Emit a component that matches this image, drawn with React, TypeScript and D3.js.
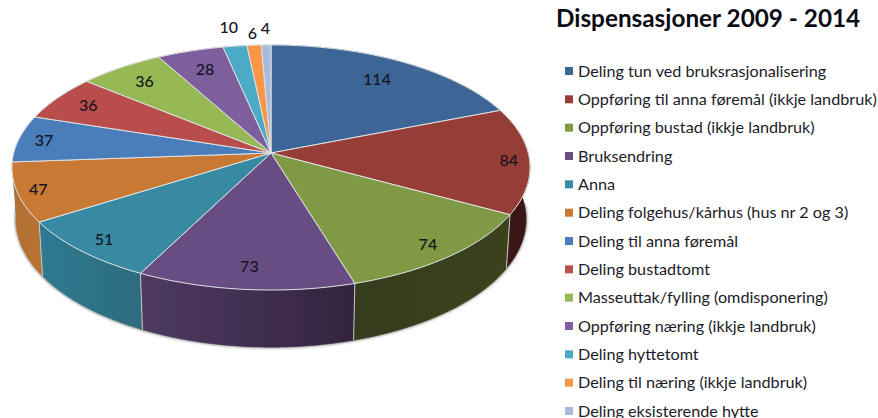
import * as d3 from 'd3';
import * as React from 'react';

const categories = [
  'Deling tun ved bruksrasjonalisering',
  'Oppføring til anna føremål (ikkje landbruk)',
  'Oppføring bustad (ikkje landbruk)',
  'Bruksendring',
  'Anna',
  'Deling folgehus/kårhus (hus nr 2 og 3)',
  'Deling til anna føremål',
  'Deling bustadtomt',
  'Masseuttak/fylling (omdisponering)',
  'Oppføring næring (ikkje landbruk)',
  'Deling hyttetomt',
  'Deling til næring (ikkje landbruk)',
  'Deling eksisterende hytte',
];
const values = [114, 84, 74, 73, 51, 47, 37, 36, 36, 28, 10, 6, 4];

const topColors = ['#3d6696', '#973c38', '#7f9945', '#684d82', '#388aa3', '#c87a35', '#4a7ebb', '#b94e4c', '#97b955', '#7d5e9e', '#4babc6', '#f79646', '#a9bbdc'];
const wallColors = [
  ['#2a4668', '#2a4668'],
  ['#4a1c18', '#3a1512'],
  ['#343c1b', '#3a421d'],
  ['#4f3a62', '#33233f'],
  ['#2f7a90', '#2f6c7e'],
  ['#b06e30', '#b87330'],
  ['#3a6494', '#3a6494'],
  ['#8a3a38', '#8a3a38'],
  ['#71893f', '#71893f'],
  ['#5d4676', '#5d4676'],
  ['#387f93', '#387f93'],
  ['#b86f34', '#b86f34'],
  ['#7e8ba3', '#7e8ba3'],
];
// how far out each value label sits, as a share of the pie radius
const labelRadius = [0.79, 0.92, 0.89, 0.85, 0.89, 0.92, 0.9, 0.85, 0.83, 0.8, 1.2, 1.12, 1.17];

const width = 878;
const height = 418;

// perspective of the tilted disc: the apex is not the middle of the drawn ellipse
const apex = { x: 271, y: 153 };
const spreadX = 257.2;
const spreadY = 120.8;
const tilt = 0.1184;

const project = (angle: number, r = 1) => {
  const u = Math.sin(angle) * r;
  const v = -Math.cos(angle) * r;
  const w = 1 - tilt * v;
  return [apex.x + (spreadX * u) / w, apex.y + (spreadY * v) / w] as [number, number];
};

// bottom rim of the wall
const projectBase = (angle: number) => {
  const [x, y] = project(angle);
  return [apex.x + (x - apex.x) * 0.985, apex.y + 51 + (y - apex.y) * 1.045] as [number, number];
};

const arcSteps = (a0: number, a1: number) => {
  const n = Math.max(2, Math.ceil((a1 - a0) / 0.02));
  return d3.range(n + 1).map((i) => a0 + ((a1 - a0) * i) / n);
};

const line = d3.line();

const App = () => {
  const arcs = d3.pie<number>().sort(null)(values);
  const midAngle = (d: { startAngle: number; endAngle: number }) => (d.startAngle + d.endAngle) / 2;

  // walls go back to front, so the near ones cover the far ones
  const wallOrder = d3.range(arcs.length).sort((a, b) => d3.ascending(-Math.cos(midAngle(arcs[a])), -Math.cos(midAngle(arcs[b]))));

  const xLegend = 565;
  const legendY = d3.scaleLinear().domain([0, 12]).range([71, 411]);

  return (
    <svg width={width} height={height} style={{ position: 'absolute', left: 0, top: 0, background: '#fff' }}>
      <defs>
        <filter id="soft" x="-5%" y="-5%" width="110%" height="110%">
          <feGaussianBlur stdDeviation="0.45" />
        </filter>
        <filter id="shadow" x="-5%" y="-5%" width="110%" height="110%">
          <feGaussianBlur stdDeviation="1.2" />
        </filter>
        {arcs.map((d, i) => {
          const x0 = project(d.startAngle)[0];
          const x1 = project(d.endAngle)[0];
          return (
            <linearGradient key={i} id={`wall-${i}`} gradientUnits="userSpaceOnUse" x1={Math.min(x0, x1)} x2={Math.max(x0, x1)} y1={0} y2={0}>
              <stop offset="0%" stopColor={wallColors[i][0]} />
              <stop offset="100%" stopColor={wallColors[i][1]} />
            </linearGradient>
          );
        })}
      </defs>

      <path
        d={line(arcSteps(Math.PI / 2, (3 * Math.PI) / 2).map(projectBase))!}
        fill="none"
        stroke="#a0a0a0"
        strokeWidth={2.5}
        filter="url(#shadow)"
      />

      <g filter="url(#soft)">
        {wallOrder.map((i) => {
          const d = arcs[i];
          const steps = arcSteps(d.startAngle, d.endAngle);
          const pts = [...steps.map((a) => project(a)), ...steps.slice().reverse().map(projectBase)];
          return <path key={i} d={line(pts) + 'Z'} fill={`url(#wall-${i})`} stroke={`url(#wall-${i})`} strokeWidth={0.5} />;
        })}
        {arcs.slice(1, 5).map((d, i) => {
          const [x0, y0] = project(d.endAngle);
          const [x1, y1] = projectBase(d.endAngle);
          return <line key={i} x1={x0} y1={y0} x2={x1} y2={y1} stroke="#c9ccc9" strokeWidth={1} />;
        })}
        {arcs.map((d, i) => {
          const pts = [[apex.x, apex.y] as [number, number], ...arcSteps(d.startAngle, d.endAngle).map((a) => project(a))];
          return <path key={i} d={line(pts) + 'Z'} fill={topColors[i]} stroke="#dfe2e4" strokeWidth={1} strokeLinejoin="round" />;
        })}
      </g>

      <g fontFamily="Lato" fontSize={16} fontWeight={500} fill="#14141e" textAnchor="middle">
        {arcs.map((d, i) => {
          const [x, y] = project(midAngle(d), labelRadius[i]);
          return (
            <text key={i} x={x} y={y} dy="0.35em">
              {values[i]}
            </text>
          );
        })}
      </g>

      <text x={556} y={27} fontFamily="Lato" fontSize={24.3} fontWeight={700} fill="#0c0c14">
        Dispensasjoner 2009 - 2014
      </text>

      <g fontFamily="Lato" fontSize={16.2} fill="#1c1c28">
        {categories.map((c, i) => (
          <g key={c} transform={`translate(${xLegend},${legendY(i)})`}>
            <rect x={0} y={-4} width={8} height={8} fill={topColors[i]} />
            <text x={13} y={0} dy="0.35em">
              {c}
            </text>
          </g>
        ))}
      </g>
    </svg>
  );
};

export default App;
